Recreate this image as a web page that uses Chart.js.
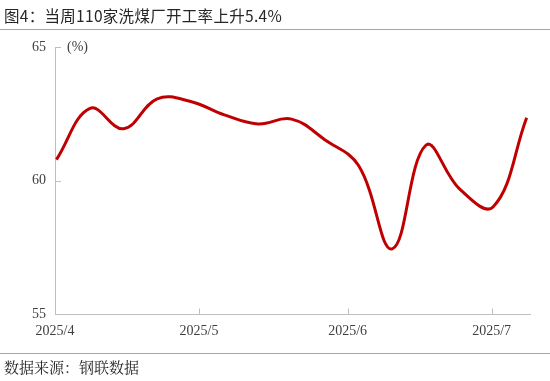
<!DOCTYPE html>
<html><head><meta charset="utf-8">
<script src="https://cdn.jsdelivr.net/npm/chart.js@4"></script>
<style>
html,body{margin:0;padding:0;background:#fff;}
#wrap{position:relative;width:550px;height:381px;overflow:hidden;}
#title{position:absolute;left:4px;top:4px;font-family:"Noto Sans CJK SC",sans-serif;font-size:15.5px;color:#262626;white-space:nowrap;letter-spacing:0.3px;}
#line1{position:absolute;left:0;top:29px;width:550px;height:1px;background:#8FA6CF;}
#line2{position:absolute;left:0;top:353px;width:550px;height:1px;background:#8FA6CF;}
#src{position:absolute;left:4px;top:356px;font-family:"Noto Serif CJK SC","Noto Sans CJK SC",serif;font-size:15px;color:#262626;white-space:nowrap;}
canvas{position:absolute;left:0;top:0;}
</style></head>
<body>
<div id="wrap">
<canvas id="c" width="550" height="381"></canvas>
<div id="title">图4：当周110家洗煤厂开工率上升5.4%</div>
<div id="line1"></div>
<div id="line2"></div>
<div id="src">数据来源：钢联数据</div>
</div>
<script>
// days since 2025-04-01 for each weekly observation
const days = [0.3,7.3,14.3,21.3,28.3,35.3,42.3,49.3,56.3,63.3,70.3,77.3,84.3,91.3,98.3];
const rates = [60.78,62.70,61.94,63.06,62.96,62.46,62.12,62.30,61.52,60.55,57.44,61.32,59.69,59.01,62.35];
const monthTicks = [0,30,61,91];
const monthLabels = ['2025/4','2025/5','2025/6','2025/7'];
const yTicks = [55,60,65];

const points = days.map((d,i)=>({x:d,y:rates[i]}));

const extras = {
  id:'extras',
  afterDraw(chart){
    const ctx = chart.ctx, xs = chart.scales.x, ys = chart.scales.y;
    ctx.save();
    ctx.strokeStyle = '#BFBFBF';
    ctx.lineWidth = 1;
    const yb = Math.round(ys.getPixelForValue(55))+0.5;
    monthTicks.slice(1).forEach(v=>{
      const px = Math.round(xs.getPixelForValue(v))+0.5;
      ctx.beginPath(); ctx.moveTo(px,yb); ctx.lineTo(px,yb-6); ctx.stroke();
    });
    const xl = Math.round(xs.getPixelForValue(0));
    yTicks.slice(1).forEach(v=>{
      const py = Math.round(ys.getPixelForValue(v))+0.5;
      ctx.beginPath(); ctx.moveTo(xl,py); ctx.lineTo(xl+6,py); ctx.stroke();
    });
    ctx.fillStyle = '#404040';
    ctx.font = '14px "Liberation Serif", serif';
    ctx.textBaseline = 'middle';
    ctx.textAlign = 'left';
    ctx.fillText('(%)', xs.left+12, ys.getPixelForValue(65));
    ctx.restore();
  }
};

new Chart(document.getElementById('c'),{
  type:'line',
  data:{datasets:[{data:points,borderColor:'#C00000',borderWidth:3,pointRadius:0,tension:0.4,fill:false}]},
  options:{
    responsive:false,animation:false,
    layout:{padding:{top:47,right:20,left:0,bottom:0}},
    plugins:{legend:{display:false},tooltip:{enabled:false}},
    scales:{
      x:{type:'linear',min:0,max:99,
        afterBuildTicks(s){s.ticks = monthTicks.map(v=>({value:v}));},
        afterFit(s){s.height = 381-314;},
        grid:{display:true,drawOnChartArea:false,drawTicks:false},
        border:{color:'#BFBFBF',width:1},
        ticks:{padding:9,color:'#404040',font:{family:'"Liberation Serif", serif',size:14},
          maxRotation:0,autoSkip:false,
          callback(v){const i = monthTicks.indexOf(v); return i>=0?monthLabels[i]:'';}}
      },
      y:{min:55,max:65,
        afterBuildTicks(s){s.ticks = yTicks.map(v=>({value:v}));},
        afterFit(s){s.width = 55;},
        grid:{drawOnChartArea:false,drawTicks:false},
        border:{color:'#BFBFBF',width:1},
        ticks:{padding:9,color:'#404040',font:{family:'"Liberation Serif", serif',size:14}}
      }
    }
  },
  plugins:[extras]
});
</script>
</body></html>
